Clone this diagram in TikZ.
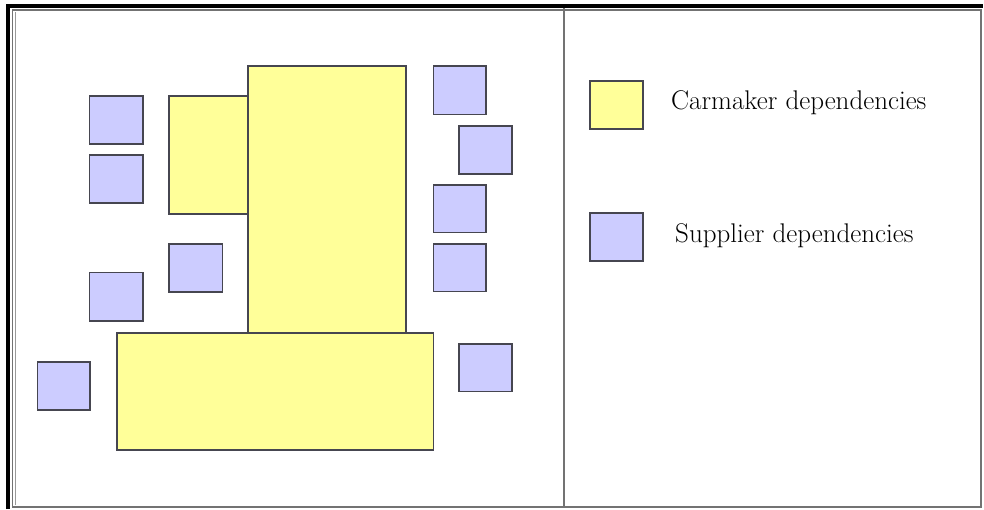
\documentclass[tikz,border=0pt]{standalone}
\usepackage{tikz}
\usetikzlibrary{calc}

\definecolor{carmakerfill}{RGB}{255,255,153}
\definecolor{supplierfill}{RGB}{204,204,255}
\definecolor{edgegray}{RGB}{70,70,80}

\tikzset{
  carmaker/.style={fill=carmakerfill, draw=edgegray, line width=1.2pt},
  supplier/.style={fill=supplierfill, draw=edgegray, line width=1.5pt},
  legendtext/.style={anchor=west, inner sep=0pt, font=\fontsize{27}{32}\selectfont}
}

\begin{document}
\begin{tikzpicture}[x=1pt, y=-1pt]
            \useasboundingbox (0,0) rectangle (984,509);

            % Draw frame
            \draw[black, line width=4pt] (8,509) -- (8,6) -- (983,6);
            \draw[black!55, line width=1.5pt] (12.5,10) rectangle (981,507);
            \draw[black!40, line width=0.8pt] (15,12) -- (15,505);
            \draw[black!55, line width=2pt] (564,8) -- (564,507);

            % Draw carmaker dependencies
            \draw[carmaker] (248,66) rectangle (406,333);
            \draw[carmaker] (169,96) rectangle (248,214);
            \draw[carmaker] (117,333) rectangle (433.5,450);

            % Draw supplier dependencies (left)
            \draw[supplier] (89.5,96) rectangle (143,144);
            \draw[supplier] (89.5,155) rectangle (143,203);
            \draw[supplier] (169,244) rectangle (222.5,292);
            \draw[supplier] (89.5,272.5) rectangle (143,321);
            \draw[supplier] (37.5,362) rectangle (90,410);

            % Draw supplier dependencies (right)
            \draw[supplier] (433.5,66) rectangle (486,114.5);
            \draw[supplier] (459,126) rectangle (512,174);
            \draw[supplier] (433.5,185) rectangle (486,232.5);
            \draw[supplier] (433.5,244) rectangle (486,291.5);
            \draw[supplier] (459,344) rectangle (512,391.5);

            % Draw legend
            \draw[carmaker] (590,81) rectangle (643,129);
            \draw[supplier] (590,213) rectangle (643,261);
            \node[legendtext] (carmakerlabel) at (671,103) {Carmaker dependencies};
            \node[legendtext] (supplierlabel) at (675,235.5) {Supplier dependencies};
        \end{tikzpicture}
\end{document}
